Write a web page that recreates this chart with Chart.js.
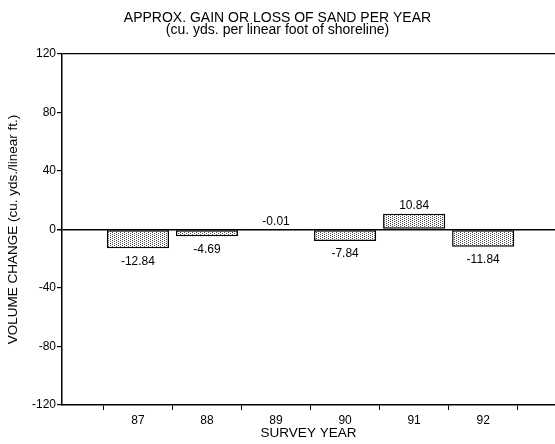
<!DOCTYPE html>
<html><head><meta charset="utf-8">
<script src="https://cdn.jsdelivr.net/npm/chart.js@4/dist/chart.umd.min.js"></script>
<style>html,body{margin:0;padding:0;background:#fff}canvas{display:block}</style>
</head><body>
<canvas id="c" width="555" height="444"></canvas>
<script>
// ---- data ----
const yearLabels = ['87', '88', '89', '90', '91', '92'];
const yearPositions = [87, 88, 89, 90, 91, 92];
const volumeChange = [-12.84, -4.69, -0.01, -7.84, 10.84, -11.84];
const yTickValues = [-120, -80, -40, 0, 40, 80, 120];
const titleText = 'APPROX. GAIN OR LOSS OF SAND PER YEAR';
const subtitleText = '(cu. yds. per linear foot of shoreline)';
const yAxisTitle = 'VOLUME CHANGE (cu. yds./linear ft.)';
const xAxisTitle = 'SURVEY YEAR';

const FONT = "'Liberation Sans', Arial, Helvetica, sans-serif";

// stipple pattern
function makePattern() {
  const p = document.createElement('canvas');
  p.width = 4; p.height = 4;
  const g = p.getContext('2d');
  g.fillStyle = '#ffffff'; g.fillRect(0, 0, 4, 4);
  g.fillStyle = '#444444';
  g.fillRect(0, 0, 1, 1); g.fillRect(2, 1, 1, 1);
  g.fillRect(0, 2, 1, 1); g.fillRect(2, 3, 1, 1);
  return document.getElementById('c').getContext('2d').createPattern(p, 'repeat');
}
const pattern = makePattern();

const valueLabels = {
  id: 'valueLabels',
  afterDatasetsDraw(chart) {
    const ctx = chart.ctx;
    const meta = chart.getDatasetMeta(0);
    ctx.save();
    ctx.fillStyle = '#000';
    ctx.font = '12px ' + FONT;
    ctx.textAlign = 'center';
    ctx.textBaseline = 'middle';
    meta.data.forEach((el, i) => {
      const v = volumeChange[i];
      const below = v < -1;
      const y = below ? el.y + 13 : el.y - 8;
      ctx.fillText(v.toFixed(2), el.x, y);
    });
    ctx.restore();
  }
};

const boundaryTicks = yearPositions.map(v => v - 0.5).concat([yearPositions[yearPositions.length - 1] + 0.5]);

new Chart(document.getElementById('c'), {
  type: 'bar',
  data: {
    datasets: [{
      data: yearPositions.map((x, i) => ({ x: x, y: volumeChange[i] })),
      backgroundColor: pattern,
      borderColor: '#000',
      borderWidth: 1.5,
      borderSkipped: false,
      barPercentage: 0.9,
      categoryPercentage: 1.0
    }]
  },
  options: {
    responsive: false,
    animation: false,
    events: [],
    layout: { padding: { left: 0, right: 0, top: 0, bottom: 0 } },
    plugins: {
      legend: { display: false },
      tooltip: { enabled: false },
      title: {
        display: true, text: titleText, color: '#000',
        font: { family: FONT, size: 14, weight: 'normal', lineHeight: '12px' },
        padding: { top: 12, bottom: 0 }
      },
      subtitle: {
        display: true, text: subtitleText, color: '#000',
        font: { family: FONT, size: 14, weight: 'normal', lineHeight: '12px' },
        padding: { top: 0, bottom: 18 }
      }
    },
    scales: {
      x: {
        type: 'linear',
        offset: false,
        min: 85.9,
        max: 93.04,
        afterBuildTicks(scale) { scale.ticks = boundaryTicks.map(v => ({ value: v })); },
        afterFit(scale) { scale.height = 39; },
        grid: { display: true, offset: false, drawOnChartArea: false, drawTicks: true, tickLength: 5, tickColor: '#000', color: '#000', lineWidth: 1 },
        border: { display: true, color: '#000', width: 1.5 },
        ticks: {
          autoSkip: false, maxRotation: 0, color: '#000', padding: 3,
          labelOffset: 34.5,
          font: { family: FONT, size: 12 },
          callback(v) {
            const i = yearPositions.indexOf(v + 0.5);
            return i >= 0 ? yearLabels[i] : '';
          }
        },
        title: { display: true, text: xAxisTitle, color: '#000', font: { family: FONT, size: 13.5 }, padding: { top: 0, bottom: 3 } }
      },
      y: {
        min: -120, max: 120,
        afterBuildTicks(scale) { scale.ticks = yTickValues.map(v => ({ value: v })); },
        afterFit(scale) { scale.width = 62; },
        grid: {
          drawTicks: true, tickLength: 5, tickColor: '#000',
          color(ctx) { const v = ctx.tick && ctx.tick.value; return (v === 0 || v === 120) ? '#000' : 'rgba(0,0,0,0)'; },
          lineWidth(ctx) { const v = ctx.tick && ctx.tick.value; return v === 0 ? 1.5 : 1.2; }
        },
        border: { display: true, color: '#000', width: 1.5 },
        ticks: { color: '#000', padding: 1, font: { family: FONT, size: 12 } },
        title: { display: true, text: yAxisTitle, color: '#000', font: { family: FONT, size: 13.5 }, padding: { top: 5, bottom: 0 } }
      }
    }
  },
  plugins: [valueLabels]
});
</script>
</body></html>
